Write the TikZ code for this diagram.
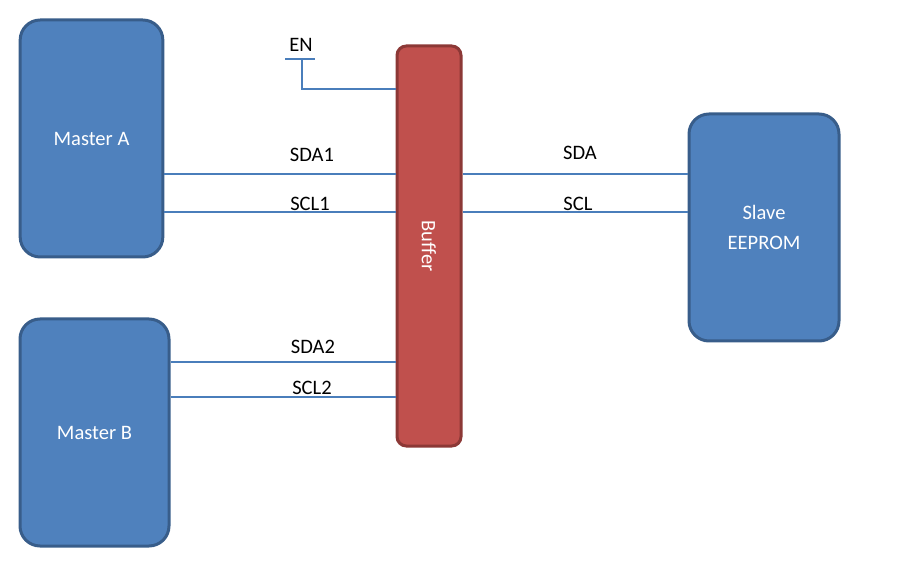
\documentclass[tikz,border=0pt]{standalone}
\usepackage{fontspec}
\setmainfont{Carlito}
\usetikzlibrary{positioning, calc}

\definecolor{boxblue}{HTML}{4F81BD}
\definecolor{boxblueedge}{HTML}{385D8A}
\definecolor{bufred}{HTML}{C0504D}
\definecolor{bufrededge}{HTML}{8C3836}
\definecolor{wireblue}{HTML}{4A7EBB}

\begin{document}
\begin{tikzpicture}[x=0.75pt, y=-0.75pt,
    chip/.style={rectangle, rounded corners=15pt, draw=boxblueedge, fill=boxblue, line width=2.25pt, text=white, font=\fontsize{15.4}{23}\selectfont, align=center},
    buf/.style={rectangle, rounded corners=7pt, draw=bufrededge, fill=bufred, line width=2.25pt, text=white, font=\fontsize{15.4}{18}\selectfont},
    wire/.style={draw=wireblue, line width=1.5pt},
    sig/.style={font=\fontsize{15.4}{18}\selectfont, inner sep=0pt}
]
    \useasboundingbox (0,0) rectangle (903,573);
    % masters, slave and buffer
    \node [chip, minimum width=107pt, minimum height=177.75pt] (masterA) at (91.5,138.5) {Master A};
    \node [chip, minimum width=111.75pt, minimum height=170.25pt] (masterB) at (94.5,432.5) {Master B};
    \node [chip, minimum width=112.5pt, minimum height=170.25pt] (slave) at (764,227.5) {Slave\\EEPROM};
    \node [buf, minimum width=48pt, minimum height=300pt] (buffer) at (429,246) {\rotatebox{-90}{Buffer}};

    % enable input
    \node [sig] (en) at (301,45) {EN};
    \coordinate (enbar) at (302,59);
    \draw [wire] ($(enbar)+(-17,0)$) -- ($(enbar)+(13,0)$);
    \draw [wire] (enbar) |- (buffer.west |- 0,89);

    % bus lines
    \draw [wire] (masterA.east |- 0,174) -- (buffer.west |- 0,174);
    \draw [wire] (masterA.east |- 0,212) -- (buffer.west |- 0,212);
    \draw [wire] (masterB.east |- 0,362) -- (buffer.west |- 0,362);
    \draw [wire] (masterB.east |- 0,397) -- (buffer.west |- 0,397);
    \draw [wire] (buffer.east |- 0,174) -- (slave.west |- 0,174);
    \draw [wire] (buffer.east |- 0,212) -- (slave.west |- 0,212);

    % line labels
    \node [sig] (sda1) at (312,155) {SDA1};
    \node [sig] (scl1) at (310,204) {SCL1};
    \node [sig] (sda2) at (313,347) {SDA2};
    \node [sig] (scl2) at (312,388) {SCL2};
    \node [sig] (sda) at (580,153) {SDA};
    \node [sig] (scl) at (578,204) {SCL};
\end{tikzpicture}
\end{document}
